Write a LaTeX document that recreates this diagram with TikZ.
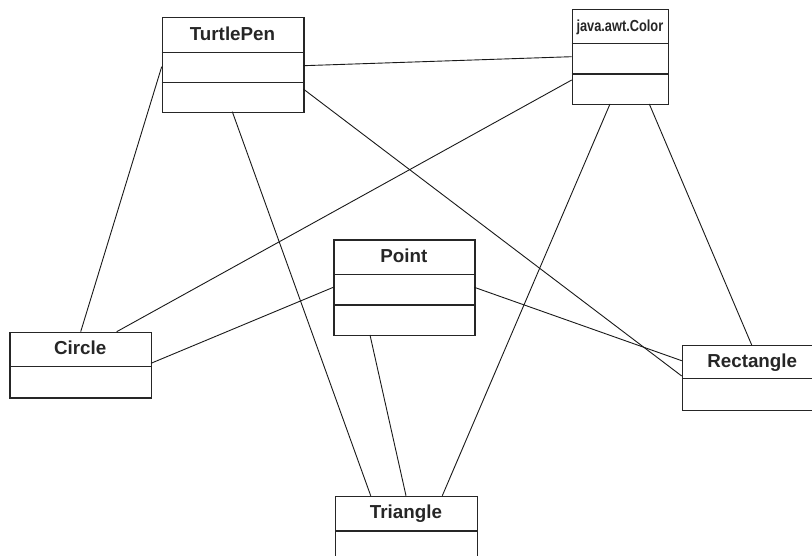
\documentclass[tikz,border=0pt]{standalone}
\usepackage{fontspec}
\setmainfont{Liberation Sans}
\begin{document}
\begin{tikzpicture}[x=1pt,y=-1pt,
  classbox/.style={draw=black!85, line width=1.3pt, rectangle, inner sep=0pt, anchor=north west},
  divider/.style={draw=black!85, line width=1.3pt},
  classname/.style={font=\fontsize{18.8}{20}\selectfont\bfseries, text=black!85, anchor=base, inner sep=0pt},
  assoc/.style={draw=black!90, line width=0.9pt}]
\useasboundingbox (0,0) rectangle (812,556);
\clip (0,0) rectangle (812,556);

% class boxes
\node[classbox, minimum width=141.6pt, minimum height=95pt] (tp) at (161.7,16.7) {};
\draw[divider] (161.7,52.3) -- (303.3,52.3);
\draw[divider] (161.7,82.3) -- (303.3,82.3);
\node[classname] (tpname) at (232.5,40.9) {TurtlePen};

\node[classbox, minimum width=96.3pt, minimum height=95pt] (col) at (571.7,9) {};
\draw[divider] (571.7,43.3) -- (668,43.3);
\draw[divider] (571.7,74) -- (668,74);
\node[classname, font=\fontsize{16}{18}\selectfont\bfseries] (colname) at (619.9,32)
  {\scalebox{0.8}[1]{java.awt.Color}};

\node[classbox, minimum width=141pt, minimum height=95.7pt] (pt) at (333.3,239.3) {};
\draw[divider] (333.3,274.3) -- (474.3,274.3);
\draw[divider] (333.3,305) -- (474.3,305);
\node[classname] (ptname) at (403.8,262.6) {Point};

\node[classbox, minimum width=141.7pt, minimum height=65.6pt] (cir) at (9.3,331.7) {};
\draw[divider] (9.3,366.7) -- (151,366.7);
\node[classname] (cirname) at (80.2,354.5) {Circle};

\node[classbox, minimum width=141pt, minimum height=65pt] (rect) at (681.7,345) {};
\draw[divider] (681.7,378.3) -- (822.7,378.3);
\node[classname] (rectname) at (752.2,367) {Rectangle};

\node[classbox, minimum width=142pt, minimum height=70pt] (tri) at (335,495.7) {};
\draw[divider] (335,531) -- (477,531);
\node[classname] (triname) at (406,518.5) {Triangle};

% attachment points on the box borders
\coordinate (tpE1) at (303.3,65.7);
\coordinate (tpE2) at (303.3,89);
\coordinate (tpW)  at (161.7,66.7);
\coordinate (tpS)  at (232.3,111.7);
\coordinate (colW1) at (571.7,56.7);
\coordinate (colW2) at (571.7,80);
\coordinate (colS1) at (610,104);
\coordinate (colS2) at (649.3,104);
\coordinate (ptW) at (333.3,287.3);
\coordinate (ptE) at (474.3,287.3);
\coordinate (ptS) at (370,335);
\coordinate (cirN1) at (80.7,331.7);
\coordinate (cirN2) at (116.7,331.7);
\coordinate (cirE) at (151,363.3);
\coordinate (rectW1) at (681.7,360.7);
\coordinate (rectW2) at (681.7,376);
\coordinate (rectN) at (751.7,345);
\coordinate (triN1) at (370.7,495.7);
\coordinate (triN2) at (406,495.7);
\coordinate (triN3) at (442.3,495.7);

% associations
\draw[assoc] (tpE1) -- (colW1);
\draw[assoc] (tpW) -- (cirN1);
\draw[assoc] (tpS) -- (triN1);
\draw[assoc] (tpE2) -- (rectW2);
\draw[assoc] (colW2) -- (cirN2);
\draw[assoc] (colS1) -- (triN3);
\draw[assoc] (colS2) -- (rectN);
\draw[assoc] (ptW) -- (cirE);
\draw[assoc] (ptE) -- (rectW1);
\draw[assoc] (ptS) -- (triN2);
\end{tikzpicture}
\end{document}
